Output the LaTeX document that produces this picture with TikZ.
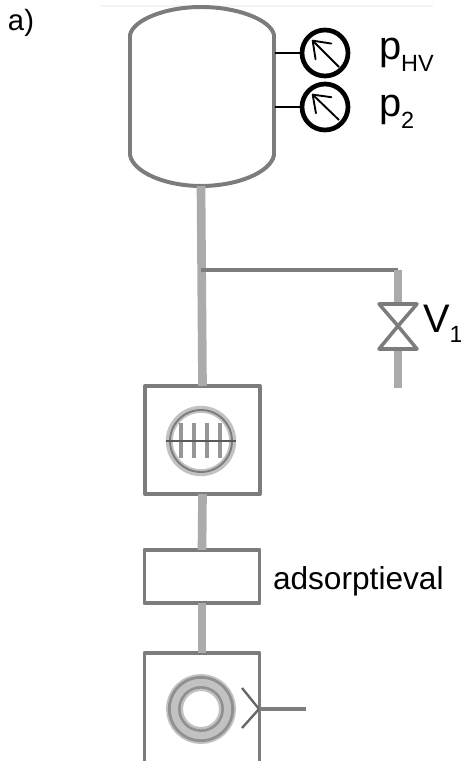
\documentclass[tikz,border=0pt]{standalone}
\usepackage{fontspec}
\setmainfont{Liberation Sans}
\usetikzlibrary{arrows.meta}
\definecolor{wallgray}{HTML}{7C7C7C}
\definecolor{pipegray}{HTML}{ABABAB}
\definecolor{ringgray}{HTML}{C2C2C2}
\definecolor{topline}{HTML}{F1F5F9}
\tikzset{
  wall/.style={draw=wallgray,line width=3.4pt},
  pipe/.style={draw=pipegray,line width=7.4pt},
  thinpipe/.style={draw=wallgray,line width=3pt},
  unitbox/.style={wall,fill=white,inner sep=0pt,outer sep=0pt},
  gauge/.style={draw=black,line width=4pt,circle,fill=white,inner sep=0pt,outer sep=0pt,minimum size=1.38cm},
  needle/.style={draw=black,line width=1.6pt,-{Straight Barb[length=13pt,width=19pt,round]}},
  label/.style={inner sep=0pt,outer sep=0pt,anchor=base west,font=\fontsize{27}{27}\selectfont},
  biglabel/.style={label,font=\fontsize{34}{34}\selectfont}
}
\begin{document}
\begin{tikzpicture}[line cap=butt,line join=round,x=0.03cm,y=-0.03cm]
\useasboundingbox (0,0) rectangle (461,761);
\clip (0,0) rectangle (461,761);
\draw [topline,line width=2.5pt] (100,6)-- (433,6);

% vessel
\coordinate (vtop) at (201,186);
\coordinate (vone) at (275,53);
\coordinate (vtwo) at (275,107);
\coordinate (tee) at (201,270);
\draw [wall] (130,35) .. controls (133,20) and (165,7) .. (201,7) .. controls (238,7) and (271,20) .. (274,35)
  -- (274,155) .. controls (271,172) and (238,186) .. (201,186) .. controls (165,186) and (133,172) .. (130,155) -- cycle;

% gauges
\node [gauge] (phv) at (325,53) {};
\node [gauge] (ptwo) at (325,107) {};
\draw [black,line width=2.2pt] (vone)-- (phv);
\draw [black,line width=2.2pt] (vtwo)-- (ptwo);
\coordinate (nhv) at (339,67);
\coordinate (ntwo) at (339,120);
\coordinate (thv) at (312,40);
\coordinate (ttwo) at (312,94);
\draw [needle] (nhv)-- (thv);
\draw [needle] (ntwo)-- (ttwo);
\node [biglabel] (lhv) at (379,60) {p\raisebox{-10pt}{\fontsize{20}{20}\selectfont HV}};
\node [biglabel] (ltwo) at (379,117) {p\raisebox{-10pt}{\fontsize{20}{20}\selectfont 2}};
\node [inner sep=0pt,font=\fontsize{25}{25}\selectfont] (la) at (21,23) {a)};

% units
\node [unitbox,minimum width=3.45cm,minimum height=3.24cm] (pumpa) at (202.5,440) {};
\node [unitbox,minimum width=3.45cm,minimum height=1.6cm] (valve) at (202,576.5) {};
\node [unitbox,minimum width=3.45cm,minimum height=4.5cm] (pumpb) at (202,728) {};
\node [label] (lads) at (273,589) {adsorptieval};

% pipes
\draw [pipe] (vtop)-- (pumpa.north);
\draw [pipe] (pumpa.south)-- (valve.north);
\draw [pipe] (valve.south)-- (pumpb.north);

% side branch
\coordinate (bend) at (398,270);
\coordinate (vvtop) at (398,304);
\coordinate (vvbot) at (398,349);
\coordinate (vend) at (398,388);
\draw [thinpipe] (tee)-- (bend);
\draw [draw=pipegray,line width=6pt] (bend)-- (vvtop);
\draw [draw=pipegray,line width=6pt] (vvbot)-- (vend);
\draw [thinpipe] (379,304)-- (417,304)-- (398,326)-- (379,349)-- (417,349)-- (398,326)-- cycle;
\node [label,font=\fontsize{34}{34}\selectfont] (lv) at (423,332) {V\raisebox{-9pt}{\fontsize{20}{20}\selectfont 1}};

% grid inside the first unit
\node [circle,draw=ringgray,line width=6pt,inner sep=0pt,minimum size=1.9cm] (grid) at (201,441) {};
\draw [draw=wallgray,line width=1.6pt] (grid) circle (0.93cm);
\foreach \xv in {181,194,207,220}
  \draw [draw=wallgray!80!white,line width=2.6pt] (\xv,423)-- (\xv,458);
\draw [draw=black!65,line width=1.6pt] (grid.west)-- (grid.east);

% ring inside the second unit
\node [circle,draw=ringgray,line width=14.5pt,inner sep=0pt,minimum size=1.59cm] (ring) at (201,709) {};
\draw [draw=wallgray!85!white,line width=2.4pt] (ring) circle (0.95cm);
\draw [draw=wallgray!85!white,line width=2.2pt] (ring) circle (0.65cm);
\coordinate (ptip) at (259,709);
\coordinate (pend) at (306,709);
\coordinate (pup) at (242,688);
\coordinate (pdown) at (242,728);
\draw [draw=black!60,line width=2pt] (pup)-- (ptip)-- (pdown);
\draw [draw=wallgray,line width=3pt] (ptip)-- (pend);
\end{tikzpicture}
\end{document}
